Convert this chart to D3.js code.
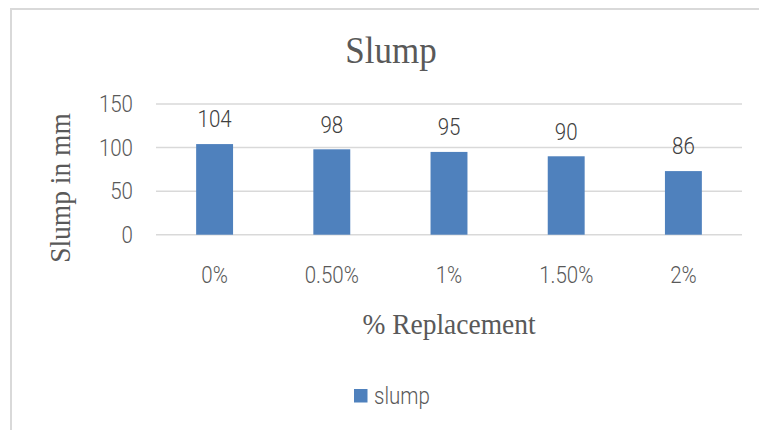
<!DOCTYPE html>
<html>
<head>
<meta charset="utf-8">
<script src="https://cdn.jsdelivr.net/npm/d3@7/dist/d3.min.js"></script>
<style>
  html, body { margin: 0; padding: 0; background: #fff; }
  svg { display: block; }
</style>
</head>
<body>
<svg id="chart" width="759" height="430"></svg>
<script>
// ---- data ----
const categories = ["0%", "0.50%", "1%", "1.50%", "2%"];
const slumpValues = [104, 98, 95, 90, 73];
const slumpLabels = ["104", "98", "95", "90", "86"];
const yTicks = [0, 50, 100, 150];
const seriesName = "slump";
const chartTitle = "Slump";
const xTitle = "% Replacement";
const yTitle = "Slump in mm";

// ---- layout ----
const plot = { left: 156, right: 742, top: 104, bottom: 234.7 };
const sans = "Roboto, 'Open Sans', sans-serif";
const serif = "'Liberation Serif', 'DejaVu Serif', serif";
const textColor = "#595959";
const gridColor = "#d9d9d9";
const barColor = "#4f81bd";
const stretch = 1.1;
const sStretch = 1.13;
const sansSize = 20.5;
const sansWeight = 300;

const svg = d3.select("#chart");

// outer border (only top/left visible)
svg.append("rect")
  .attr("x", 11).attr("y", 9)
  .attr("width", 900).attr("height", 600)
  .attr("fill", "none")
  .attr("stroke", gridColor)
  .attr("stroke-width", 2);

const x = d3.scaleBand()
  .domain(categories)
  .range([plot.left, plot.right])
  .paddingInner(0.685)
  .paddingOuter(0.3425);

const y = d3.scaleLinear()
  .domain([0, 150])
  .range([plot.bottom, plot.top]);

function sansText(g, tx, ty, anchor, fill) {
  return g.attr("transform", `translate(${tx},${ty}) scale(1,${sStretch})`)
    .attr("dy", "0.36em")
    .attr("text-anchor", anchor)
    .attr("font-family", sans)
    .attr("font-weight", sansWeight)
    .attr("font-size", sansSize)
    .attr("fill", fill);
}

// gridlines
svg.append("g")
  .selectAll("line")
  .data(yTicks)
  .join("line")
  .attr("x1", plot.left).attr("x2", plot.right)
  .attr("y1", d => y(d)).attr("y2", d => y(d))
  .attr("stroke", gridColor)
  .attr("stroke-width", 1.5);

// y tick labels
svg.append("g")
  .selectAll("text")
  .data(yTicks)
  .join("text")
  .each(function(d) { sansText(d3.select(this), plot.left - 23, y(d), "end", textColor); })
  .text(d => d);

// x tick labels
svg.append("g")
  .selectAll("text")
  .data(categories)
  .join("text")
  .each(function(d) { sansText(d3.select(this), x(d) + x.bandwidth() / 2, plot.bottom + 40, "middle", textColor); })
  .text(d => d);

// bars
const data = categories.map((c, i) => ({ c, v: slumpValues[i], label: slumpLabels[i] }));
svg.append("g")
  .selectAll("rect")
  .data(data)
  .join("rect")
  .attr("x", d => x(d.c))
  .attr("width", x.bandwidth())
  .attr("y", d => y(d.v))
  .attr("height", d => y(0) - y(d.v))
  .attr("fill", barColor);

// data labels
svg.append("g")
  .selectAll("text")
  .data(data)
  .join("text")
  .each(function(d) { sansText(d3.select(this), x(d.c) + x.bandwidth() / 2, y(d.v) - 25, "middle", "#404040"); })
  .text(d => d.label);

// title
svg.append("text")
  .attr("transform", `translate(391,63) scale(1,${stretch})`)
  .attr("text-anchor", "middle")
  .attr("font-family", serif)
  .attr("font-size", 35)
  .attr("fill", textColor)
  .text(chartTitle);

// x title
svg.append("text")
  .attr("transform", `translate(449,334) scale(1,${stretch})`)
  .attr("text-anchor", "middle")
  .attr("font-family", serif)
  .attr("font-size", 27.5)
  .attr("fill", textColor)
  .text(xTitle);

// y title
svg.append("text")
  .attr("transform", `translate(70,188) rotate(-90) scale(1,${stretch})`)
  .attr("text-anchor", "middle")
  .attr("font-family", serif)
  .attr("font-size", 27.5)
  .attr("fill", textColor)
  .text(yTitle);

// legend
const lg = svg.append("g").attr("transform", "translate(354,389)");
lg.append("rect")
  .attr("width", 13.5).attr("height", 13.5)
  .attr("fill", barColor);
sansText(lg.append("text"), 20, 7, "start", textColor).text(seriesName);
</script>
</body>
</html>
